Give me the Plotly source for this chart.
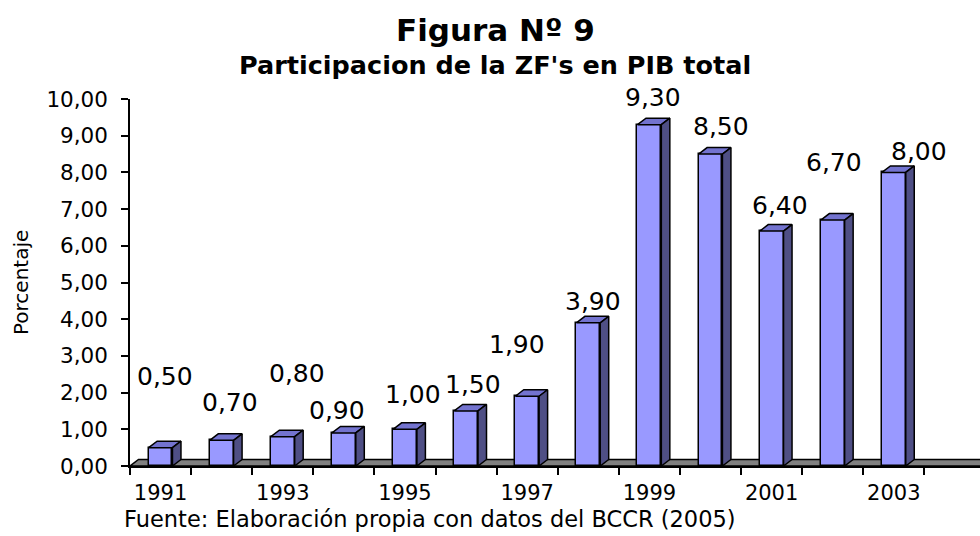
import plotly.graph_objects as go

# ---- data ----
years = [1991, 1992, 1993, 1994, 1995, 1996, 1997, 1998, 1999, 2000, 2001, 2002, 2003]
values = [0.50, 0.70, 0.80, 0.90, 1.00, 1.50, 1.90, 3.90, 9.30, 8.50, 6.40, 6.70, 8.00]
# where the value labels sit (value units) and their horizontal nudge (px)
label_y = [2.45, 1.74, 2.51, 1.50, 1.96, 2.21, 3.30, 4.47, 10.03, 9.24, 7.11, 8.28, 8.58]
label_dx = [4, 8, 14, -7, 8, 7, -10, 5, 4, 10, 8, 1, 25]

title1 = "Figura Nº 9"
title2 = "Participacion de la ZF's en PIB total"
ytitle = "Porcentaje"
source = "Fuente: Elaboración propia con datos del BCCR (2005)"

# ---- layout geometry ----
W, H = 980, 536
ML, MR, MT, MB = 130, 0, 99, 70
XMIN, XMAX = -0.5, 13.41
YMIN, YMAX = 0, 10
px_x = (W - ML - MR) / (XMAX - XMIN)
px_y = (H - MT - MB) / (YMAX - YMIN)
DDX = 8.5 / px_x   # 3D depth, horizontal
DDY = 6.5 / px_y   # 3D depth, vertical
BW = 0.39          # bar width (category units)

FONT = "DejaVu Sans"
FRONT = "#9999FF"
TOP = "#7373CF"
SIDE = "#4F4F85"
FLOOR = "#808080"
EDGE = "black"

xs = list(range(len(years)))

fig = go.Figure()

# front faces
fig.add_trace(go.Bar(
    x=xs, y=values, width=BW,
    marker=dict(color=FRONT, line=dict(color=EDGE, width=1.5)),
    hoverinfo="skip", showlegend=False,
))

# top and side faces derived from the values
top_x, top_y, side_x, side_y = [], [], [], []
for i, v in enumerate(values):
    x1, x2 = i - BW / 2, i + BW / 2
    top_x += [x1, x1 + DDX, x2 + DDX, x2, x1, None]
    top_y += [v, v + DDY, v + DDY, v, v, None]
    side_x += [x2, x2 + DDX, x2 + DDX, x2, x2, None]
    side_y += [0, DDY, v + DDY, v, 0, None]

fig.add_trace(go.Scatter(x=top_x, y=top_y, mode="lines", fill="toself",
                         fillcolor=TOP, line=dict(color=EDGE, width=1.5),
                         hoverinfo="skip", showlegend=False, cliponaxis=False))
fig.add_trace(go.Scatter(x=side_x, y=side_y, mode="lines", fill="toself",
                         fillcolor=SIDE, line=dict(color=EDGE, width=1.5),
                         hoverinfo="skip", showlegend=False, cliponaxis=False))

# floor
fig.add_shape(type="path", xref="x", yref="y", layer="below",
              path=f"M {XMIN},0 L {XMIN + DDX},{DDY} L {XMAX + 1},{DDY} L {XMAX + 1},0 Z",
              fillcolor=FLOOR, line=dict(color=EDGE, width=1.5))

# value labels (vertical position in paper units so labels above the range still show)
for i, v in enumerate(values):
    fig.add_annotation(x=i, xref="x", yref="paper",
                       y=(label_y[i] - YMIN) / (YMAX - YMIN), xshift=label_dx[i],
                       text=f"{v:.2f}".replace(".", ","), showarrow=False,
                       font=dict(family=FONT, size=25, color="black"),
                       xanchor="center", yanchor="middle")

def px2paper_x(p):
    return (p - ML) / (W - ML - MR)

def px2paper_y(p):
    return (H - MB - p) / (H - MT - MB)

fig.add_annotation(xref="paper", yref="paper", x=px2paper_x(495), y=px2paper_y(30),
                   text=f"<b>{title1}</b>", showarrow=False,
                   font=dict(family=FONT, size=31, color="black"),
                   xanchor="center", yanchor="middle")
fig.add_annotation(xref="paper", yref="paper", x=px2paper_x(495), y=px2paper_y(65),
                   text=f"<b>{title2}</b>", showarrow=False,
                   font=dict(family=FONT, size=25.5, color="black"),
                   xanchor="center", yanchor="middle")
fig.add_annotation(xref="paper", yref="paper", x=px2paper_x(21), y=px2paper_y(283),
                   text=ytitle, textangle=-90, showarrow=False,
                   font=dict(family=FONT, size=20, color="black"),
                   xanchor="center", yanchor="middle")
fig.add_annotation(xref="paper", yref="paper", x=px2paper_x(123), y=px2paper_y(519),
                   text=source, showarrow=False, borderpad=0,
                   font=dict(family=FONT, size=22.5, color="black"),
                   xanchor="left", yanchor="middle")

fig.update_layout(
    width=W, height=H,
    margin=dict(l=ML, r=MR, t=MT, b=MB, pad=0),
    paper_bgcolor="white", plot_bgcolor="white",
    separators=",.",
    bargap=0,
    font=dict(family=FONT, size=21, color="black"),
    xaxis=dict(
        range=[XMIN, XMAX], showgrid=False, zeroline=False,
        showline=True, linecolor=EDGE, linewidth=1.5,
        tickmode="array", tickvals=xs[::2], ticktext=[str(y) for y in years[::2]],
        ticks="outside", ticklen=7, tickcolor="rgba(0,0,0,0)",
        ticklabelstandoff=0,
        tickfont=dict(family=FONT, size=21, color="black"),
        minor=dict(tickmode="array", tickvals=[XMIN + k for k in range(len(years) + 1)],
                   ticks="outside", ticklen=7, tickwidth=1.5, tickcolor=EDGE, showgrid=False),
        fixedrange=True,
    ),
    yaxis=dict(
        range=[YMIN, YMAX], showgrid=False, zeroline=False,
        showline=True, linecolor=EDGE, linewidth=1.5,
        tickmode="linear", tick0=0, dtick=1, tickformat=".2f",
        ticks="outside", ticklen=7, tickwidth=1.5, tickcolor=EDGE,
        ticklabelstandoff=9,
        tickfont=dict(family=FONT, size=21.5, color="black"),
        fixedrange=True,
    ),
)

fig.write_html("out.html", config={"displayModeBar": False},
               post_script="document.body.style.margin='0';")
